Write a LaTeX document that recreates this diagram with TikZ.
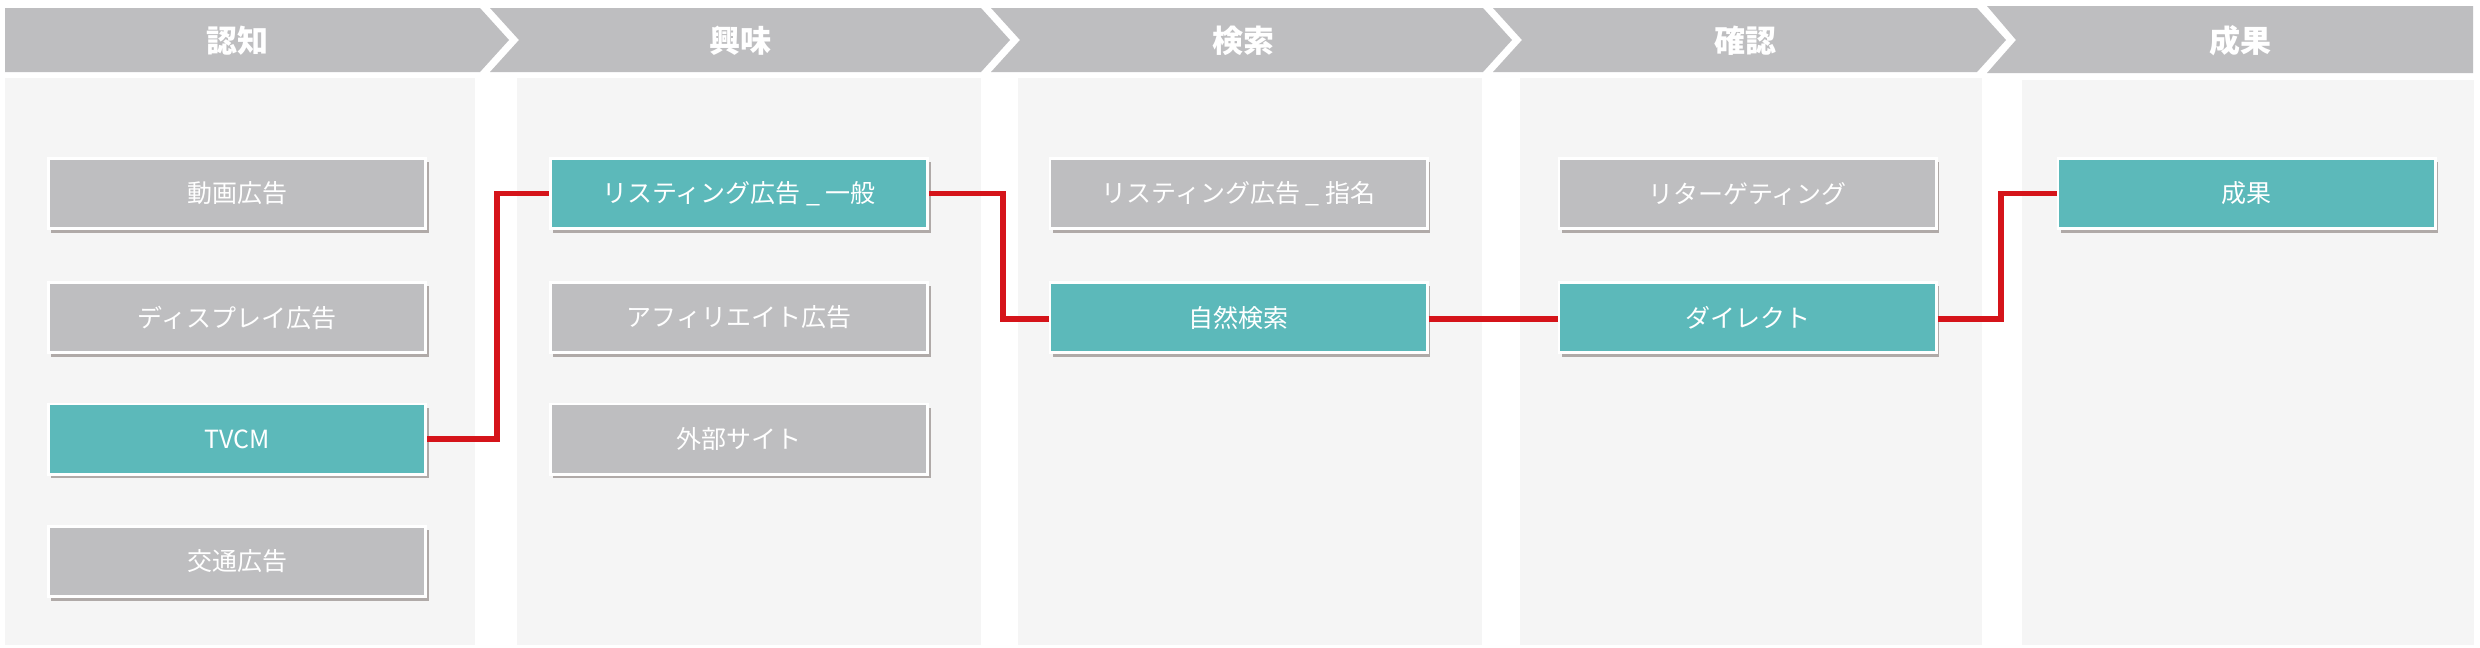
\documentclass[tikz,border=0pt]{standalone}
\usepackage{fontspec}
\setmainfont{Noto Sans CJK JP}
\newfontfamily\jp{Noto Sans CJK JP}
\usetikzlibrary{shadows}
\definecolor{hdrgray}{RGB}{190,190,192}
\definecolor{boxgray}{RGB}{190,190,192}
\definecolor{teal}{RGB}{92,185,186}
\definecolor{panelc}{RGB}{245,245,245}
\definecolor{redline}{RGB}{213,20,26}
\definecolor{shadowc}{RGB}{120,110,105}
\tikzset{
  hdr/.style={fill=hdrgray, draw=none},
  hdrtext/.style={text=white, font=\jp\bfseries\fontsize{15.5pt}{16pt}\selectfont, inner sep=0pt},
  panel/.style={fill=panelc, draw=none},
  item/.style={rectangle, draw=white, line width=1.3pt, minimum width=188.7pt, minimum height=35.2pt,
    inner sep=0pt, text=white, font=\jp\fontsize{12.5pt}{13pt}\selectfont,
    drop shadow={shadow xshift=1.4pt, shadow yshift=-2pt, fill=shadowc, opacity=0.55}},
  grayitem/.style={item, fill=boxgray},
  tealitem/.style={item, fill=teal},
  link/.style={draw=redline, line width=2.6pt}
}
\begin{document}
\begin{tikzpicture}[x=0.5pt, y=-0.5pt]
\useasboundingbox (0,0) rectangle (2480,648);
\fill[white] (0,0) rectangle (2480,648);
% header chevrons
\fill[hdr] (5,8) -- (480,8) -- (509,40) -- (480,72) -- (5,72) -- cycle;
\fill[hdr] (490,8) -- (981,8) -- (1010,40) -- (981,72) -- (490,72) -- (519,40) -- cycle;
\fill[hdr] (991,8) -- (1483,8) -- (1512,40) -- (1483,72) -- (991,72) -- (1020,40) -- cycle;
\fill[hdr] (1493,8) -- (1977,8) -- (2006,40) -- (1977,72) -- (1493,72) -- (1522,40) -- cycle;
\fill[hdr] (1987,6) -- (2473,6) -- (2473,73) -- (1987,73) -- (2016,40) -- cycle;
\node[hdrtext] (h1) at (237,41) {認知};
\node[hdrtext] (h2) at (740,41) {興味};
\node[hdrtext] (h3) at (1243,41) {検索};
\node[hdrtext] (h4) at (1745,41) {確認};
\node[hdrtext] (h5) at (2240,41) {成果};
% panels
\fill[panel] (5,78) rectangle (475,645);
\fill[panel] (517,78) rectangle (981,645);
\fill[panel] (1018,78) rectangle (1482,645);
\fill[panel] (1520,78) rectangle (1982,645);
\fill[panel] (2022,80) rectangle (2474,645);
% connectors (drawn first so boxes sit on top)
\coordinate (c1a) at (497,439);
\coordinate (c1b) at (497,193.5);
\coordinate (c2a) at (1003,193.5);
\coordinate (c2b) at (1003,319);
\coordinate (c4a) at (2001,319);
\coordinate (c4b) at (2001,193.5);
% boxes column 1
\node[grayitem] (a1) at (237,193.5) {動画広告};
\node[grayitem] (a2) at (237,317.5) {ディスプレイ広告};
\node[tealitem] (a3) at (237,439) {TVCM};
\node[grayitem] (a4) at (237,561.5) {交通広告};
% column 2
\node[tealitem] (b1) at (739,193.5) {リスティング広告 \_ 一般};
\node[grayitem] (b2) at (739,317.5) {アフィリエイト広告};
\node[grayitem] (b3) at (739,439) {外部サイト};
% column 3
\node[grayitem] (d1) at (1238.5,193.5) {リスティング広告 \_ 指名};
\node[tealitem] (d2) at (1238.5,317.5) {自然検索};
% column 4
\node[grayitem] (e1) at (1747.5,193.5) {リターゲティング};
\node[tealitem] (e2) at (1747.5,317.5) {ダイレクト};
% column 5
\node[tealitem] (f1) at (2246.5,193.5) {成果};
% red links
\draw[link] (a3.east) -- (a3.east -| c1a) -- (c1b) -- (b1.west);
\draw[link] (b1.east) -- (c2a) -- (c2b) -- (d2.west |- c2b);
\draw[link] (d2.east |- c2b) -- (e2.west |- c2b);
\draw[link] (e2.east |- c4a) -- (c4a) -- (c4b) -- (f1.west);
\end{tikzpicture}
\end{document}
